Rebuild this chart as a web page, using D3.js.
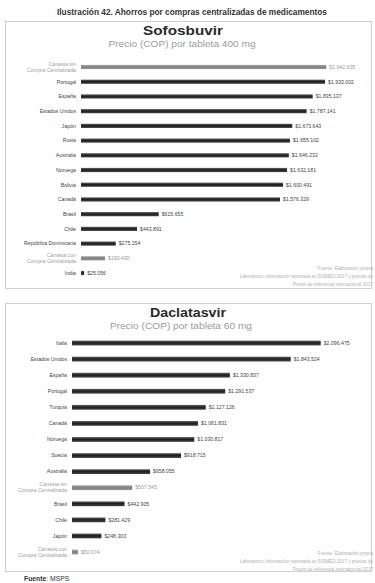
<!DOCTYPE html>
<html><head><meta charset="utf-8">
<script src="https://cdn.jsdelivr.net/npm/d3@7"></script>
<style>
html,body{margin:0;padding:0;background:#fff;}
svg{display:block;font-family:"Liberation Sans",Arial,sans-serif;}
</style></head>
<body>
<svg id="c" width="375" height="583"></svg>
<script>
// ---- data ----
const sofCategories = ["Canasta sin\nCompra Centralizada","Portugal","España","Estados Unidos","Japón","Rusia","Australia","Noruega","Bolivia","Canadá","Brasil","Chile","República Dominicana","Canasta con\nCompra Centralizada","India"];
const sofValues = [1942605,1933002,1835137,1787141,1673643,1655102,1646232,1632181,1600491,1576329,615655,443891,275154,190430,25056];
const sofGrey = [true,false,false,false,false,false,false,false,false,false,false,false,false,true,false];

const dacCategories = ["Italia","Estados Unidos","España","Portugal","Turquía","Canadá","Noruega","Suecia","Australia","Canasta sin\nCompra Centralizada","Brasil","Chile","Japón","Canasta con\nCompra Centralizada"];
const dacValues = [2096475,1843524,1330837,1291537,1127126,1061831,1030817,918715,658055,507545,442905,281429,248303,50074];
const dacGrey = [false,false,false,false,false,false,false,false,false,true,false,false,false,true];

const fmt = v => "$" + d3.format(",")(v).replace(/,/g, ".");

const svg = d3.select("#c");
const defs = svg.append("defs");
const g1 = defs.append("linearGradient").attr("id","dark").attr("x1",0).attr("y1",0).attr("x2",0).attr("y2",1);
g1.append("stop").attr("offset","0%").attr("stop-color","#666");
g1.append("stop").attr("offset","45%").attr("stop-color","#1e1e1e");
g1.append("stop").attr("offset","100%").attr("stop-color","#444");
const g2 = defs.append("linearGradient").attr("id","grey").attr("x1",0).attr("y1",0).attr("x2",0).attr("y2",1);
g2.append("stop").attr("offset","0%").attr("stop-color","#aaa");
g2.append("stop").attr("offset","50%").attr("stop-color","#7d7d7d");
g2.append("stop").attr("offset","100%").attr("stop-color","#999");

// main title
svg.append("text").attr("x",192).attr("y",15).attr("text-anchor","middle")
  .attr("font-family","'Liberation Sans Narrow','Arial Narrow',sans-serif")
  .attr("font-weight","bold").attr("font-size",8.2).attr("fill","#333")
  .attr("textLength",270).attr("lengthAdjust","spacingAndGlyphs")
  .text("Ilustración 42. Ahorros por compras centralizadas de medicamentos");

function panel(cfg){
  const p = svg.append("g");
  p.append("rect").attr("x",5.5).attr("y",cfg.top+0.5).attr("width",366).attr("height",cfg.bottom-cfg.top)
    .attr("fill","#fff").attr("stroke","#cfcfcf").attr("stroke-width",1);
  p.append("text").attr("x",cfg.titleX).attr("y",cfg.titleY).attr("text-anchor","middle")
    .attr("font-family","'Liberation Sans',Arial,sans-serif").attr("font-weight","bold")
    .attr("font-size",13).attr("fill","#2a2a2a")
    .attr("textLength",cfg.titleW).attr("lengthAdjust","spacingAndGlyphs").text(cfg.title);
  p.append("text").attr("x",cfg.subX).attr("y",cfg.subY).attr("text-anchor","middle")
    .attr("font-size",8.5).attr("fill","#9a9a9a")
    .attr("textLength",cfg.subW).attr("lengthAdjust","spacingAndGlyphs").text(cfg.sub);

  const x = d3.scaleLinear().domain([0, cfg.max]).range([cfg.x0, cfg.x1]);
  const idx = d3.range(cfg.cats.length);
  const y = d3.scalePoint().domain(idx).range([cfg.y0, cfg.y1]);

  const rows = p.selectAll("g.row").data(idx).join("g").attr("class","row");
  rows.append("rect")
    .attr("x", x(0)).attr("y", i => y(i) - cfg.bh/2)
    .attr("width", i => x(cfg.vals[i]) - x(0)).attr("height", cfg.bh)
    .attr("fill", i => cfg.grey[i] ? "url(#grey)" : "url(#dark)");
  rows.append("text")
    .attr("x", i => x(cfg.vals[i]) + 3).attr("y", i => y(i) + 1.8)
    .attr("font-size", 5.2).attr("fill", i => cfg.grey[i] ? "#999" : "#444")
    .text(i => fmt(cfg.vals[i]));
  rows.each(function(i){
    const lines = cfg.cats[i].split("\n");
    const t = d3.select(this).append("text")
      .attr("x", x(0) - 5).attr("text-anchor","end")
      .attr("font-size", 5.2).attr("fill", cfg.grey[i] ? "#a0a0a0" : "#444");
    lines.forEach((l,k)=>{
      t.append("tspan").attr("x", x(0) - 5)
        .attr("y", y(i) + 1.8 + (k - (lines.length-1)/2) * 6).text(l);
    });
  });

  const notes = cfg.notes;
  notes.forEach((n,k)=>{
    p.append("text").attr("x",373).attr("y",cfg.noteY + k*8).attr("text-anchor","end")
      .attr("font-size",4.6).attr("fill","#b0b0b0").text(n);
  });
}

panel({top:21,bottom:288,title:"Sofosbuvir",titleX:183,titleY:35,titleW:80,
  sub:"Precio (COP) por tableta 400 mg",subX:182,subY:47,subW:147,
  cats:sofCategories,vals:sofValues,grey:sofGrey,max:2000000,x0:81,x1:333.5,y0:67,y1:273,bh:4.2,
  notes:["Fuente: Elaboración propia","Laboratorio: información reportada en SISMED 2017 y precios de","Precio de referencia internacional 2017"],noteY:270});

panel({top:303,bottom:571,title:"Daclatasvir",titleX:188,titleY:317,titleW:76,
  sub:"Precio (COP) por tableta 60 mg",subX:181,subY:329,subW:142,
  cats:dacCategories,vals:dacValues,grey:dacGrey,max:2200000,x0:72,x1:333,y0:343,y1:552,bh:4.8,
  notes:["Fuente: Elaboración propia","Laboratorio: información reportada en SISMED 2017 y precios de","Precio de referencia internacional 2017"],noteY:555});

const f = svg.append("text").attr("x",24).attr("y",581).attr("font-family","'Liberation Sans Narrow','Arial Narrow',sans-serif")
  .attr("font-size",6.8).attr("fill","#333");
f.append("tspan").attr("font-weight","bold").text("Fuente");
f.append("tspan").text(": MSPS");
</script>
</body></html>
